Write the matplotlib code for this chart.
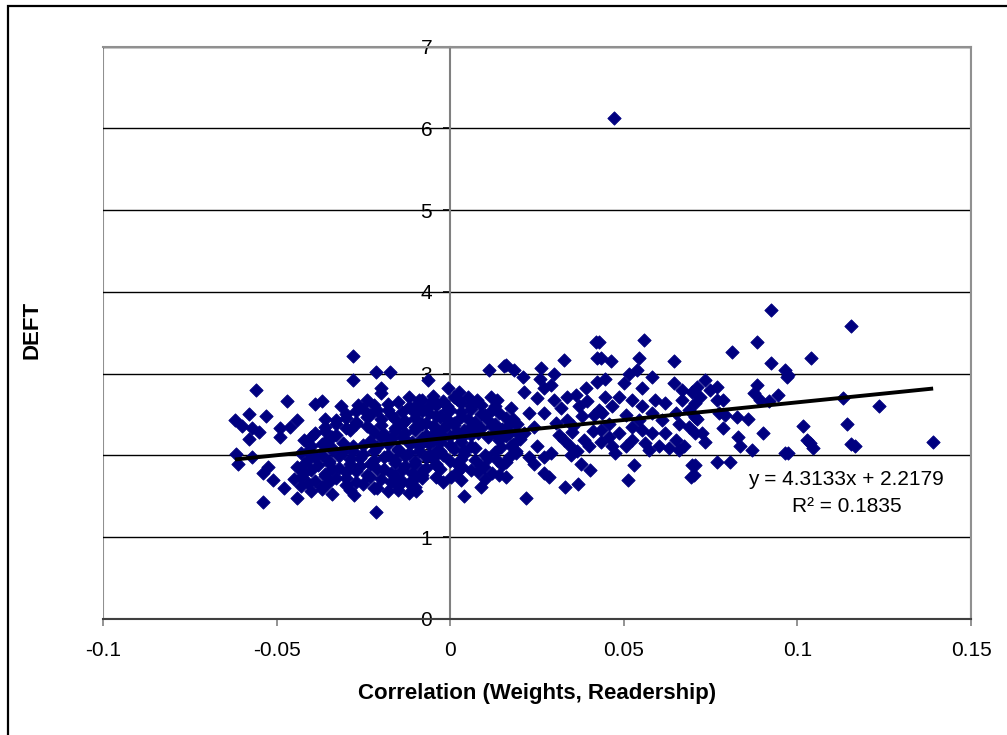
import matplotlib
matplotlib.use("Agg")
import matplotlib.pyplot as plt
from matplotlib.patches import Rectangle

plt.rcParams['font.family'] = ['Liberation Sans', 'DejaVu Sans']

# ---- data ----
# far-left points
corr_a = [-0.056, -0.047, -0.058, -0.053, -0.062, -0.060, -0.057, -0.055, -0.058, -0.049,
          -0.044, -0.046, -0.049, -0.039, -0.0616, -0.061, -0.057, -0.0525, -0.054, -0.051,
          -0.048, -0.054, -0.044]
deft_a = [2.80, 2.66, 2.51, 2.48, 2.43, 2.36, 2.33, 2.29, 2.20, 2.33,
          2.43, 2.35, 2.23, 2.63, 2.02, 1.90, 1.98, 1.86, 1.78, 1.70,
          1.60, 1.43, 1.48]

# upper / lower fringe of the left cluster
corr_b = [-0.028, -0.0213, -0.0172, -0.028, -0.020, -0.020, -0.037, -0.0266, -0.024, -0.0314,
          -0.036, -0.018, -0.0276, -0.0213]
deft_b = [3.21, 3.02, 3.02, 2.92, 2.83, 2.76, 2.66, 2.62, 2.68, 2.60,
          2.45, 2.56, 1.52, 1.31]

# dense left cluster
corr_c = [-0.040, -0.034, -0.018, -0.012,
          -0.043, -0.037, -0.030, -0.022, -0.015, -0.010,
          -0.045, -0.039, -0.033, -0.027, -0.020, -0.014, -0.008,
          -0.042, -0.036, -0.030, -0.024, -0.017, -0.011,
          -0.044, -0.038, -0.032, -0.026, -0.019, -0.013, -0.007,
          -0.041, -0.035, -0.029, -0.022, -0.016, -0.010,
          -0.043, -0.037, -0.031, -0.025, -0.018, -0.012, -0.006,
          -0.040, -0.034, -0.028, -0.021, -0.015, -0.009,
          -0.042, -0.036, -0.023, -0.017, -0.011, -0.005,
          -0.039, -0.033, -0.019, -0.013, -0.007,
          -0.036, -0.030, -0.024, -0.016, -0.010, -0.004,
          -0.033, -0.027, -0.020, -0.013, -0.007,
          -0.030, -0.023, -0.017, -0.010, -0.004,
          -0.025, -0.012, -0.006,
          -0.015, -0.008, -0.002]
deft_c = [1.57, 1.53, 1.56, 1.54,
          1.63, 1.61, 1.64, 1.60, 1.63, 1.61,
          1.71, 1.69, 1.72, 1.68, 1.71, 1.69, 1.72,
          1.79, 1.77, 1.80, 1.76, 1.79, 1.78,
          1.86, 1.88, 1.85, 1.87, 1.84, 1.87, 1.85,
          1.95, 1.93, 1.96, 1.94, 1.95, 1.93,
          2.03, 2.01, 2.04, 2.02, 2.00, 2.03, 2.01,
          2.11, 2.09, 2.12, 2.10, 2.08, 2.11,
          2.19, 2.17, 2.18, 2.20, 2.17, 2.19,
          2.27, 2.25, 2.26, 2.28, 2.25,
          2.35, 2.33, 2.36, 2.34, 2.35, 2.33,
          2.43, 2.41, 2.44, 2.42, 2.40,
          2.51, 2.49, 2.50, 2.52, 2.48,
          2.57, 2.59, 2.60,
          2.65, 2.68, 2.66]

# more points inside the dense left cluster
corr_c2 = [-0.037, -0.029, -0.021, -0.015,
           -0.041, -0.035, -0.025, -0.017, -0.012,
           -0.043, -0.036, -0.030, -0.023, -0.016, -0.010, -0.004,
           -0.040, -0.034, -0.027, -0.021, -0.014, -0.008,
           -0.042, -0.035, -0.029, -0.023, -0.016, -0.010, -0.004,
           -0.039, -0.032, -0.026, -0.019, -0.013, -0.007,
           -0.041, -0.034, -0.028, -0.022, -0.015, -0.009, -0.003,
           -0.037, -0.031, -0.025, -0.018, -0.012, -0.006,
           -0.040, -0.034, -0.020, -0.014, -0.008, -0.002,
           -0.036, -0.029, -0.022, -0.016, -0.010, -0.004,
           -0.033, -0.027, -0.020, -0.014, -0.008, -0.001,
           -0.030, -0.024, -0.016, -0.010, -0.003,
           -0.027, -0.021, -0.014, -0.008, -0.001,
           -0.022, -0.018, -0.010, -0.004,
           -0.012, -0.005, 0.001]
deft_c2 = [1.59, 1.58, 1.60, 1.58,
           1.66, 1.67, 1.65, 1.67, 1.66,
           1.74, 1.75, 1.73, 1.74, 1.75, 1.73, 1.74,
           1.82, 1.83, 1.81, 1.83, 1.82, 1.81,
           1.90, 1.91, 1.89, 1.90, 1.91, 1.89, 1.90,
           1.98, 1.99, 1.97, 1.98, 1.99, 1.98,
           2.06, 2.07, 2.05, 2.06, 2.07, 2.05, 2.06,
           2.14, 2.15, 2.13, 2.14, 2.15, 2.14,
           2.22, 2.23, 2.22, 2.23, 2.21, 2.22,
           2.30, 2.31, 2.29, 2.30, 2.31, 2.30,
           2.38, 2.39, 2.37, 2.38, 2.39, 2.38,
           2.46, 2.47, 2.45, 2.46, 2.47,
           2.54, 2.55, 2.53, 2.54, 2.55,
           2.62, 2.63, 2.61, 2.62,
           2.72, 2.73, 2.71]

# cluster around zero
corr_d = [0.0112, 0.0155, -0.0065, -0.0005, 0.0026, 0.0078, 0.0117, 0.0135, -0.0089, 0.0146,
          0.0136, 0.0098, 0.0141, -0.0022, 0.004, 0.0088, 0.0002, -0.0099, -0.008, 0.0035,
          0.000, 0.007, -0.002, 0.004, 0.010, 0.001, 0.007, -0.003, 0.003, 0.011,
          0.000, 0.006, 0.016, -0.002, 0.004, 0.009, 0.015, 0.001, 0.007, 0.013,
          -0.003, 0.003, 0.010, 0.016, 0.000, 0.006, 0.012, -0.004, 0.003, 0.009,
          0.005, 0.002, -0.003, 0.006]
deft_d = [3.04, 3.09, 2.92, 2.82, 2.78, 2.68, 2.72, 2.68, 2.68, 2.10,
          1.94, 1.86, 1.76, 1.68, 1.50, 1.62, 1.74, 1.56, 1.76, 1.86,
          1.93, 1.95, 2.00, 2.02, 2.00, 2.08, 2.09, 2.16, 2.17, 2.22,
          2.24, 2.25, 2.24, 2.32, 2.31, 2.33, 2.32, 2.40, 2.41, 2.39,
          2.48, 2.47, 2.49, 2.46, 2.56, 2.57, 2.55, 2.63, 2.64, 2.62,
          2.72, 1.80, 1.84, 1.82]

# more points inside the zero cluster
corr_d2 = [0.003, 0.010,
           0.008, 0.012,
           -0.004, 0.002, 0.009, 0.015,
           -0.005, 0.003, 0.011, 0.017,
           -0.004, 0.004, 0.013, 0.019,
           0.000, 0.006, 0.018,
           -0.006, 0.003, 0.014, 0.020,
           -0.004, 0.002, 0.008, 0.013, 0.019,
           -0.005, 0.001, 0.006, 0.012, 0.017,
           -0.001, 0.005, 0.011, 0.018,
           -0.006, 0.003, 0.009, 0.014,
           -0.001, 0.006, 0.013,
           -0.005, 0.002]
deft_d2 = [1.70, 1.71,
           1.80, 1.79,
           1.88, 1.89, 1.87, 1.88,
           1.97, 1.96, 1.97, 1.98,
           2.05, 2.06, 2.04, 2.05,
           2.13, 2.12, 2.14,
           2.20, 2.21, 2.19, 2.20,
           2.28, 2.29, 2.27, 2.28, 2.29,
           2.36, 2.37, 2.35, 2.36, 2.37,
           2.44, 2.45, 2.43, 2.44,
           2.52, 2.53, 2.51, 2.52,
           2.60, 2.61, 2.60,
           2.68, 2.69]

# 0.015 .. 0.045
corr_e = [0.0419, 0.0422, 0.0328, 0.0261, 0.0299, 0.0184, 0.016, 0.0211, 0.0259, 0.0423,
          0.039, 0.027, 0.0213, 0.0251, 0.0299, 0.0337, 0.0361, 0.0371, 0.0174, 0.0227,
          0.027, 0.0414, 0.0337, 0.0193, 0.0241, 0.017, 0.0213, 0.0313, 0.0351, 0.0385,
          0.0174, 0.0251, 0.0289, 0.0328, 0.040, 0.0189, 0.0227, 0.027, 0.0347, 0.0376,
          0.0404, 0.016, 0.0241, 0.027, 0.0284, 0.0332, 0.0368, 0.0218, 0.016,
          0.0320, 0.0395, 0.0355, 0.0305, 0.0380, 0.0430, 0.0345, 0.0410, 0.0290, 0.0365]
deft_e = [3.39, 3.19, 3.17, 3.07, 3.00, 3.05, 3.11, 2.96, 2.94, 2.90,
          2.82, 2.82, 2.78, 2.70, 2.68, 2.72, 2.74, 2.60, 2.58, 2.52,
          2.52, 2.49, 2.43, 2.39, 2.35, 2.27, 2.27, 2.25, 2.29, 2.19,
          2.11, 2.11, 2.03, 2.19, 2.11, 2.03, 1.98, 1.98, 2.01, 1.90,
          1.82, 1.92, 1.90, 1.78, 1.74, 1.62, 1.65, 1.48, 1.74,
          2.58, 2.66, 2.36, 2.40, 2.48, 2.56, 2.12, 2.30, 2.86, 2.05]

# 0.043 .. 0.071
corr_f = [0.0557, 0.0428, 0.0433, 0.0462, 0.0545, 0.0644, 0.0514, 0.0581, 0.0447, 0.0538,
          0.050, 0.0553, 0.0644, 0.0668, 0.0696, 0.0447, 0.0486, 0.0524, 0.0591, 0.062,
          0.0668, 0.0706, 0.0466, 0.0553, 0.0649, 0.0438, 0.0505, 0.0581, 0.061, 0.0687,
          0.0706, 0.0457, 0.0524, 0.0553, 0.0658, 0.0687, 0.0433, 0.0486, 0.0581, 0.062,
          0.0649, 0.0706, 0.0457, 0.0524, 0.0562, 0.0601, 0.0672, 0.0466, 0.0505, 0.0629,
          0.0658, 0.0433, 0.0476, 0.0572, 0.0529, 0.0512, 0.0696, 0.0694, 0.0543]
deft_f = [3.41, 3.39, 3.19, 3.15, 3.19, 3.15, 3.00, 2.96, 2.94, 3.04,
          2.88, 2.82, 2.88, 2.80, 2.78, 2.72, 2.72, 2.68, 2.68, 2.64,
          2.68, 2.64, 2.60, 2.60, 2.52, 2.52, 2.49, 2.52, 2.43, 2.56,
          2.47, 2.39, 2.35, 2.31, 2.39, 2.35, 2.31, 2.27, 2.27, 2.27,
          2.19, 2.27, 2.23, 2.19, 2.15, 2.11, 2.11, 2.11, 2.11, 2.09,
          2.07, 2.17, 2.03, 2.07, 1.88, 1.70, 1.88, 1.74, 2.43]

# 0.07 .. 0.1
corr_g = [0.0923, 0.0883, 0.0811, 0.0923, 0.0965, 0.097, 0.0735, 0.0768, 0.0711, 0.0749,
          0.0883, 0.0874, 0.0945, 0.0917, 0.0893, 0.0787, 0.072, 0.0768, 0.0773, 0.0792,
          0.0826, 0.0859, 0.0711, 0.0787, 0.0902, 0.083, 0.0725, 0.0735, 0.0835, 0.0869,
          0.0965, 0.0768, 0.0805, 0.0706, 0.0701]
deft_g = [3.78, 3.39, 3.27, 3.13, 3.04, 2.96, 2.92, 2.84, 2.84, 2.80,
          2.86, 2.76, 2.74, 2.66, 2.68, 2.68, 2.72, 2.68, 2.52, 2.49,
          2.47, 2.45, 2.45, 2.33, 2.27, 2.23, 2.27, 2.17, 2.11, 2.07,
          2.03, 1.92, 1.92, 1.88, 1.76]

# far-right points and the outlier
corr_h = [0.1154, 0.1039, 0.0974, 0.1132, 0.1235, 0.1017, 0.1142, 0.1027, 0.1046, 0.1037,
          0.1154, 0.1166, 0.1391, 0.0974, 0.0471]
deft_h = [3.58, 3.19, 2.98, 2.70, 2.60, 2.36, 2.38, 2.19, 2.09, 2.15,
          2.14, 2.11, 2.16, 2.03, 6.12]

corr = corr_a + corr_b + corr_c + corr_c2 + corr_d + corr_d2 + corr_e + corr_f + corr_g + corr_h
deft = deft_a + deft_b + deft_c + deft_c2 + deft_d + deft_d2 + deft_e + deft_f + deft_g + deft_h

slope = 4.3133
intercept = 2.2179
r_squared = 0.1835

x_ticks = [-0.1, -0.05, 0, 0.05, 0.1, 0.15]
x_tick_labels = ['-0.1', '-0.05', '0', '0.05', '0.1', '0.15']
y_ticks = [0, 1, 2, 3, 4, 5, 6, 7]
y_tick_labels = ['0', '1', '2', '3', '4', '5', '6', '7']

# ---- figure ----
W, H = 1007, 735
fig = plt.figure(figsize=(W / 100, H / 100), dpi=100)
fig.patch.set_facecolor('white')

# outer chart border
fig.patches.append(Rectangle((8 / W, -0.5), 2.0, 0.5 + (1 - 6 / H), transform=fig.transFigure,
                             fill=False, edgecolor='black', linewidth=1.6))

ax = fig.add_axes([103 / W, 1 - 619 / H, 868 / W, (619 - 46.5) / H])
ax.set_xlim(-0.1, 0.15)
ax.set_ylim(0, 7)

ax.set_xticks(x_ticks)
ax.set_xticklabels(x_tick_labels)
ax.set_yticks(y_ticks)
ax.set_yticklabels(y_tick_labels)

ax.yaxis.grid(True, color='black', linewidth=1.0)
ax.xaxis.grid(False)
ax.set_axisbelow(True)

ax.spines['left'].set_position(('data', 0))
ax.spines['left'].set_color('#808080')
ax.spines['left'].set_linewidth(1.5)
ax.spines['bottom'].set_color('#404040')
ax.spines['bottom'].set_linewidth(1.5)
for s in ('top', 'right'):
    ax.spines[s].set_color('#909090')
    ax.spines[s].set_linewidth(1.5)
ax.add_patch(Rectangle((0, 0), 1, 1, transform=ax.transAxes, fill=False,
                       edgecolor='#909090', linewidth=1.5, zorder=0.5))

ax.tick_params(axis='x', direction='out', length=5, width=1.2, color='#808080',
               labelsize=15, pad=11)
ax.tick_params(axis='y', direction='out', length=5, width=1.2, color='black',
               labelsize=15, pad=8)

ax.scatter(corr, deft, marker='D', s=46, color='#000080', edgecolors='#000080',
           linewidths=0.6, zorder=3)

x0, x1 = min(corr), max(corr)
ax.plot([x0, x1], [slope * x0 + intercept, slope * x1 + intercept], color='black',
        linewidth=2.8, zorder=4, solid_capstyle='butt')

ax.text(0.1141, 1.70, f'y = {slope}x + {intercept}', ha='center', va='center', fontsize=15)
ax.text(0.1141, 1.37, f'R² = {r_squared}', ha='center', va='center', fontsize=15)

fig.text(537 / W, 1 - 693 / H, 'Correlation (Weights, Readership)', ha='center', va='center',
         fontsize=16, fontweight='bold')
fig.text(32 / W, 1 - 330 / H, 'DEFT', ha='center', va='center', rotation=90,
         fontsize=16, fontweight='bold')

fig.savefig('out.png', dpi=100)
